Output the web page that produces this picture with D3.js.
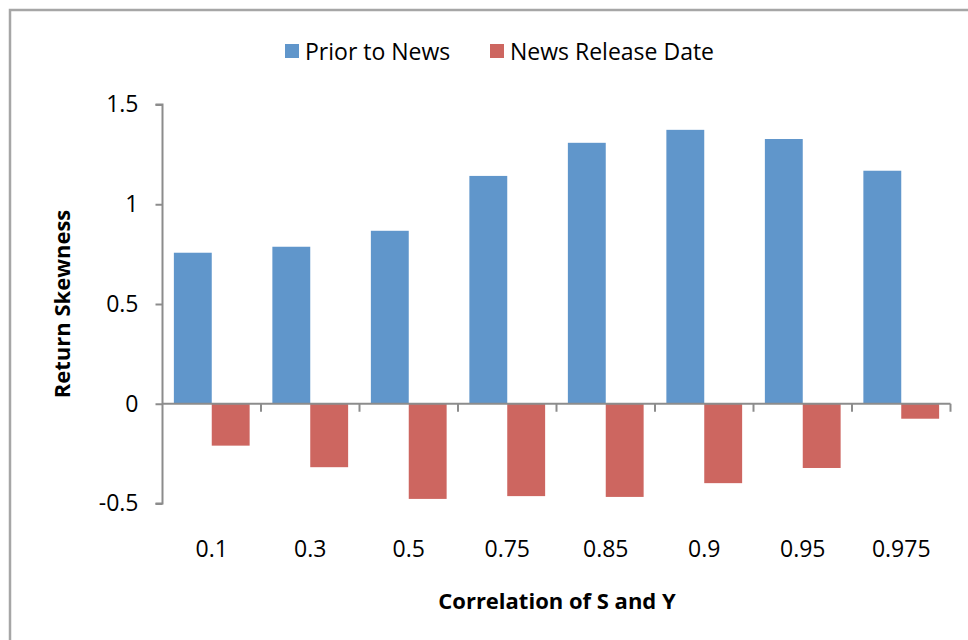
<!DOCTYPE html>
<html><head><meta charset="utf-8">
<script src="https://cdn.jsdelivr.net/npm/d3@7"></script>
<style>html,body{margin:0;padding:0;background:#fff;}svg{display:block;font-family:"Open Sans",sans-serif;}</style>
</head><body>
<svg id="chart" width="968" height="640"></svg>
<script>
const categories = ["0.1","0.3","0.5","0.75","0.85","0.9","0.95","0.975"];
const seriesNames = ["Prior to News","News Release Date"];
const priorToNews = [0.757,0.787,0.867,1.142,1.308,1.373,1.327,1.168];
const newsRelease = [-0.21,-0.318,-0.477,-0.463,-0.467,-0.398,-0.322,-0.075];
const yTicks = [-0.5,0,0.5,1,1.5];
const yTickLabels = ["-0.5","0","0.5","1","1.5"];
const colors = ["#6096CB","#CD6660"];

const svg = d3.select("#chart");
const axisColor = "#8c8c8c";

// frame
svg.append("path").attr("d","M10,700 L10,10 L1000,10").attr("fill","none").attr("stroke","#a6a6a6").attr("stroke-width",2.5);

const x0 = 162.5, x1 = 950.5;
const y = d3.scaleLinear().domain([-0.5,1.5]).range([503.5,104.5]);
const x = d3.scaleBand().domain(categories).range([x0,x1]).paddingInner(0).paddingOuter(0);
const bw = x.bandwidth()/2.6;
const off = bw*0.3;

const data = [priorToNews,newsRelease];
data.forEach((vals,si)=>{
  svg.append("g").selectAll("rect").data(vals).join("rect")
    .attr("x",(d,i)=>x(categories[i])+off+si*bw)
    .attr("width",bw)
    .attr("y",d=>y(Math.max(0,d)))
    .attr("height",d=>Math.abs(y(d)-y(0)))
    .attr("fill",colors[si]);
});

// y axis
const yAxis = d3.axisLeft(y).tickValues(yTicks).tickSize(7).tickPadding(17)
  .tickFormat((d,i)=>yTickLabels[i]);
const gy = svg.append("g").attr("transform",`translate(${x0},0)`).call(yAxis);
gy.select(".domain").attr("stroke",axisColor).attr("stroke-width",2).attr("d",`M-7,${y(1.5)}H0V${y(-0.5)}H-7`);
gy.selectAll(".tick line").attr("stroke",axisColor).attr("stroke-width",2);
gy.selectAll(".tick text").attr("font-size",23).attr("fill","#000").attr("font-family","Open Sans");

// x axis at zero
const xAxis = d3.axisBottom(x).tickSize(0).tickFormat(()=>"");
const gx = svg.append("g").attr("transform",`translate(0,${y(0)})`).call(xAxis);
gx.select(".domain").attr("stroke",axisColor).attr("stroke-width",2).attr("d",`M${x0},0H${x1}`);
gx.selectAll(".tick").remove();
gx.selectAll(".btick").data(categories).join("line")
  .attr("x1",d=>x(d)+x.bandwidth()).attr("x2",d=>x(d)+x.bandwidth())
  .attr("y1",0).attr("y2",8).attr("stroke",axisColor).attr("stroke-width",2);

// category labels
svg.append("g").selectAll("text").data(categories).join("text")
  .attr("x",d=>x(d)+x.bandwidth()/2).attr("y",557)
  .attr("text-anchor","middle").attr("font-size",23).text(d=>d);

// axis titles
svg.append("text").attr("x",557).attr("y",609).attr("text-anchor","middle")
  .attr("font-size",22).attr("font-weight","bold").text("Correlation of S and Y");
svg.append("text").attr("transform","translate(70,304) rotate(-90)").attr("text-anchor","middle")
  .attr("font-size",22).attr("font-weight","bold").text("Return Skewness");

// legend
const legX = [285,490];
const lg = svg.append("g").selectAll("g").data(seriesNames).join("g")
  .attr("transform",(d,i)=>`translate(${legX[i]},44)`);
lg.append("rect").attr("width",14).attr("height",14).attr("fill",(d,i)=>colors[i]);
lg.append("text").attr("x",20).attr("y",16).attr("font-size",23).text(d=>d);
</script>
</body></html>
